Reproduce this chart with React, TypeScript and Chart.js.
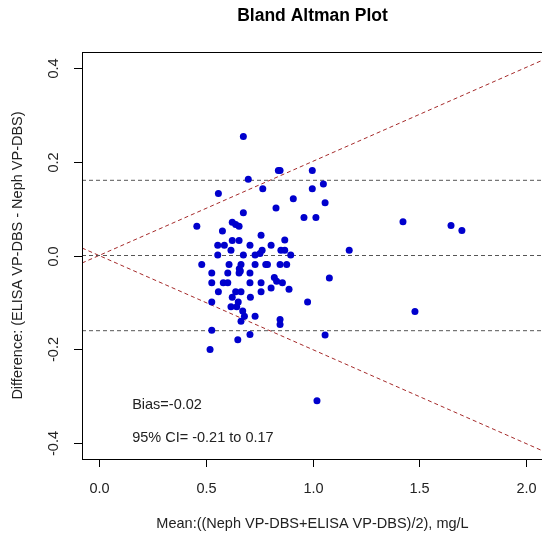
import React, { useEffect, useRef } from "react";
import { Chart, registerables } from "chart.js";

Chart.register(...registerables);

// ---- Data (mean, difference) ----
const meanValues: number[] = [
  0.676, 0.840, 0.848, 0.999, 0.699, 0.559, 0.767, 0.999, 1.051, 0.910,
  1.059, 0.829, 0.676, 0.960, 1.016, 0.458, 0.624, 0.640, 0.656, 0.578,
  0.759, 0.624, 0.656, 0.870, 0.556, 0.587, 0.707, 0.806, 0.618, 0.764,
  0.754, 0.852, 0.870, 1.172, 0.556, 0.676, 0.731, 0.898, 0.481, 0.609,
  0.665, 0.657, 0.731, 0.781, 0.789, 0.848, 0.879, 0.528, 0.603, 0.656,
  0.662, 0.707, 0.821, 1.079, 0.528, 0.582, 0.603, 0.707, 0.759, 0.832,
  0.859, 0.806, 0.890, 0.559, 0.640, 0.665, 0.759, 0.624, 0.709, 0.528,
  0.652, 0.977, 0.618, 0.645, 0.673, 0.681, 0.731, 0.665, 0.848, 0.848,
  0.528, 0.707, 1.059, 0.650, 0.520, 1.021, 1.424, 1.649, 1.700, 1.480,
];
const diffValues: number[] = [
  0.253, 0.181, 0.181, 0.181, 0.162, 0.132, 0.142, 0.142, 0.152, 0.121,
  0.112, 0.101, 0.091, 0.081, 0.081, 0.062, 0.071, 0.066, 0.062, 0.052,
  0.043, 0.032, 0.032, 0.033, 0.022, 0.022, 0.022, 0.022, 0.011, 0.011,
  0.004, 0.011, 0.011, 0.011, 0.001, 0.001, 0.001, 0.001, -0.019, -0.019,
  -0.019, -0.028, -0.019, -0.019, -0.019, -0.019, -0.019, -0.037, -0.037, -0.037,
  -0.033, -0.037, -0.047, -0.048, -0.058, -0.058, -0.058, -0.058, -0.058, -0.055,
  -0.058, -0.069, -0.072, -0.077, -0.077, -0.077, -0.077, -0.089, -0.089, -0.099,
  -0.099, -0.099, -0.109, -0.109, -0.118, -0.129, -0.129, -0.140, -0.136, -0.147,
  -0.159, -0.168, -0.169, -0.179, -0.200, -0.309, 0.072, 0.064, 0.053, -0.119,
];

// Reference lines
const hLineLevels: number[] = [0.16, 0, -0.16];
const coneSlopes: number[] = [0.2, -0.2];

// Axes
const xRange: number[] = [-0.08, 2.08];
const yRange: number[] = [-0.433, 0.433];
const xTicks: number[] = [0, 0.5, 1, 1.5, 2];
const yTicks: number[] = [-0.4, -0.2, 0, 0.2, 0.4];

const titleText = "Bland Altman Plot";
const xTitle = "Mean:((Neph VP-DBS+ELISA VP-DBS)/2), mg/L";
const yTitle = "Difference: (ELISA VP-DBS - Neph VP-DBS)";
const annotationTexts: string[] = ["Bias=-0.02", "95% CI= -0.21 to 0.17"];
const annotationX = 0.155;
const annotationY: number[] = [-0.319, -0.389];

const FONT = "'Liberation Sans', Arial, sans-serif";
const TEXT_COLOR = "#222";

const rStylePlugin = {
  id: "rStyle",
  afterDatasetsDraw(chart: any) {
    const { ctx, chartArea } = chart;
    const xs = chart.scales.x;
    const ys = chart.scales.y;
    const { left, right, top, bottom } = chartArea;
    ctx.save();
    // box
    ctx.strokeStyle = "#000";
    ctx.lineWidth = 1;
    ctx.strokeRect(Math.round(left) + 0.5, Math.round(top) + 0.5, Math.round(right - left), Math.round(bottom - top));

    ctx.fillStyle = TEXT_COLOR;
    ctx.font = `14.5px ${FONT}`;
    // x ticks
    ctx.textAlign = "center";
    ctx.textBaseline = "middle";
    xTicks.forEach((v) => {
      const px = Math.round(xs.getPixelForValue(v)) + 0.5;
      ctx.beginPath();
      ctx.moveTo(px, Math.round(bottom));
      ctx.lineTo(px, Math.round(bottom) + 8);
      ctx.stroke();
      ctx.fillText(v.toFixed(1), px, bottom + 30);
    });
    // y ticks
    yTicks.forEach((v) => {
      const py = Math.round(ys.getPixelForValue(v)) + 0.5;
      ctx.beginPath();
      ctx.moveTo(Math.round(left) - 8, py);
      ctx.lineTo(Math.round(left), py);
      ctx.stroke();
      ctx.save();
      ctx.translate(left - 28, py);
      ctx.rotate(-Math.PI / 2);
      ctx.fillText(v.toFixed(1), 0, 0);
      ctx.restore();
    });
    // axis titles
    const cx = (left + right) / 2;
    const cy = (top + bottom) / 2;
    ctx.fillText(xTitle, cx, bottom + 65);
    ctx.save();
    ctx.translate(18, cy);
    ctx.rotate(-Math.PI / 2);
    ctx.fillText(yTitle, 0, 0);
    ctx.restore();
    // annotations
    ctx.textAlign = "left";
    annotationTexts.forEach((t, i) => {
      ctx.fillText(t, xs.getPixelForValue(annotationX), ys.getPixelForValue(annotationY[i]));
    });
    // main title
    ctx.textAlign = "center";
    ctx.font = `bold 17.5px ${FONT}`;
    ctx.fillStyle = "#000";
    ctx.fillText(titleText, cx, 16);
    ctx.restore();
  },
};

export default function App() {
  const canvasRef = useRef<HTMLCanvasElement | null>(null);

  useEffect(() => {
    if (!canvasRef.current) return;
    const points = meanValues.map((m, i) => ({ x: m, y: diffValues[i] }));
    const hLines = hLineLevels.map((lv) => ({
      type: "line" as const,
      data: [
        { x: xRange[0], y: lv },
        { x: xRange[1], y: lv },
      ],
      showLine: true,
      borderColor: "#555555",
      borderWidth: 1,
      borderDash: [4, 3],
      pointRadius: 0,
      fill: false,
      order: 2,
    }));
    const cones = coneSlopes.map((s) => ({
      type: "line" as const,
      data: [
        { x: xRange[0], y: s * xRange[0] },
        { x: xRange[1], y: s * xRange[1] },
      ],
      showLine: true,
      borderColor: "#A52A2A",
      borderWidth: 1,
      borderDash: [4, 3],
      pointRadius: 0,
      fill: false,
      order: 3,
    }));

    const chart = new Chart(canvasRef.current, {
      type: "scatter",
      data: {
        datasets: [
          {
            data: points,
            backgroundColor: "#0000CD",
            borderColor: "#0000CD",
            pointRadius: 3.5,
            pointBorderWidth: 0,
            order: 1,
          },
          ...hLines,
          ...cones,
        ] as any,
      },
      options: {
        responsive: false,
        animation: false,
        events: [],
        layout: { padding: { left: 82, top: 52, right: 17, bottom: 78 } },
        plugins: {
          legend: { display: false },
          title: { display: false },
          tooltip: { enabled: false },
        },
        scales: {
          x: { type: "linear", min: xRange[0], max: xRange[1], display: false },
          y: { type: "linear", min: yRange[0], max: yRange[1], display: false },
        },
      },
      plugins: [rStylePlugin],
    });
    return () => chart.destroy();
  }, []);

  return (
    <div
      style={{
        position: "absolute",
        left: 0,
        top: 0,
        width: 542,
        height: 537,
        overflow: "hidden",
        background: "#fff",
      }}
    >
      <canvas ref={canvasRef} width={560} height={537} style={{ width: 560, height: 537, display: "block" }} />
    </div>
  );
}
